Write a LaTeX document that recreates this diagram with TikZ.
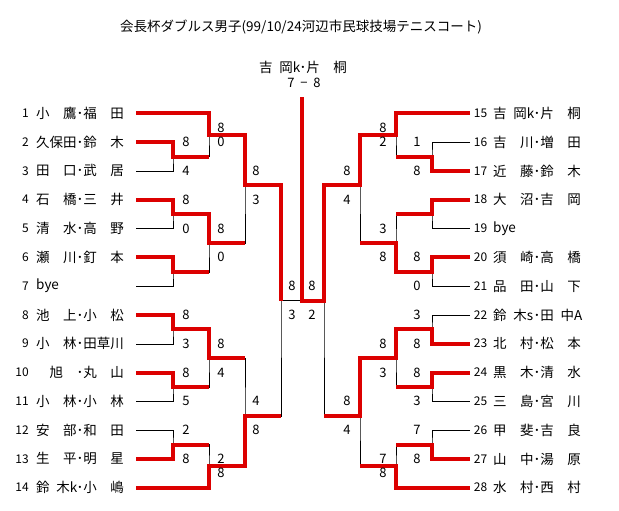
\documentclass[tikz,border=0pt]{standalone}
\usepackage{fontspec}
\setmainfont{Noto Sans CJK JP}
\usetikzlibrary{calc}
\definecolor{winred}{RGB}{220,0,0}
\tikzset{
  win/.style={draw=winred,line width=4pt},
  entry/.style={anchor=west,inner sep=0pt,font=\fontsize{13.5}{15}\selectfont},
  num/.style={anchor=east,inner sep=0pt,font=\fontsize{12}{14}\selectfont},
  sc/.style={inner sep=0pt,font=\fontsize{13}{15}\selectfont},
}
\newcommand\hw[1]{\makebox[.5em][l]{#1}}
\newcommand\pair[2]{\makebox[3em][l]{#1}\makebox[.5em]{･}\makebox[3em][l]{#2}}

\begin{document}
\begin{tikzpicture}[x=1pt,y=-14.4pt]
        \useasboundingbox (0,-7.868) rectangle (619,27.618);

        % title and result
        \node[entry,anchor=center] (title) at (301,-6) {会長杯ダブルス男子(99/10/24河辺市民球技場テニスコート)};
        \node[entry,anchor=center] (champ) at (303,-3.2) {\pair{吉\hspace{.5em}岡\hw{k}}{片　桐}};
        \node[sc] (final) at (304,-2.1) {7\hspace{.45em}−\hspace{.45em}8};

        % entry rows
        \foreach \i in {1,...,14}{
          \coordinate (L\i) at (136,{2*(\i-1)});
          \node[num] (nl\i) at (29,{2*(\i-1)}) {\i};
        }
        \foreach \i in {15,...,28}{
          \coordinate (R\i) at (470,{2*(\i-15)});
          \node[num] (nr\i) at (487.5,{2*(\i-15)}) {\i};
        }

        \node[entry] (p1) at (36,0) {\pair{小　鷹}{福　田}};
        \node[entry] (p2) at (36,2) {\pair{久保田}{鈴　木}};
        \node[entry] (p3) at (36,4) {\pair{田　口}{武　居}};
        \node[entry] (p4) at (36,6) {\pair{石　橋}{三　井}};
        \node[entry] (p5) at (36,8) {\pair{清　水}{高　野}};
        \node[entry] (p6) at (36,10) {\pair{瀬　川}{釘　本}};
        \node[entry] (p7) at (36,12) {bye};
        \node[entry] (p8) at (36,14) {\pair{池　上}{小　松}};
        \node[entry] (p9) at (36,16) {\pair{小　林}{田草川}};
        \node[entry] (p10) at (36,18) {\pair{　旭　}{丸　山}};
        \node[entry] (p11) at (36,20) {\pair{小　林}{小　林}};
        \node[entry] (p12) at (36,22) {\pair{安　部}{和　田}};
        \node[entry] (p13) at (36,24) {\pair{生　平}{明　星}};
        \node[entry] (p14) at (36,26) {\pair{鈴\hspace{.5em}木\hw{k}}{小　嶋}};

        \node[entry] (p15) at (493,0) {\pair{吉\hspace{.5em}岡\hw{k}}{片　桐}};
        \node[entry] (p16) at (493,2) {\pair{吉　川}{増　田}};
        \node[entry] (p17) at (493,4) {\pair{近　藤}{鈴　木}};
        \node[entry] (p18) at (493,6) {\pair{大　沼}{吉　岡}};
        \node[entry] (p19) at (493,8) {bye};
        \node[entry] (p20) at (493,10) {\pair{須　崎}{高　橋}};
        \node[entry] (p21) at (493,12) {\pair{品　田}{山　下}};
        \node[entry] (p22) at (493,14) {\pair{鈴\hspace{.5em}木\hw{s}}{田\hspace{.5em}中\hw{A}}};
        \node[entry] (p23) at (493,16) {\pair{北　村}{松　本}};
        \node[entry] (p24) at (493,18) {\pair{黒　木}{清　水}};
        \node[entry] (p25) at (493,20) {\pair{三　島}{宮　川}};
        \node[entry] (p26) at (493,22) {\pair{甲　斐}{吉　良}};
        \node[entry] (p27) at (493,24) {\pair{山　中}{湯　原}};
        \node[entry] (p28) at (493,26) {\pair{水　村}{西　村}};

        % match points, left half
        \coordinate (a23) at (173,3);
        \coordinate (a45) at (173,7);
        \coordinate (a67) at (173,11);
        \coordinate (a89) at (173,15);
        \coordinate (a1011) at (173,19);
        \coordinate (a1213) at (173,23);
        \coordinate (b1) at (209,1.5);
        \coordinate (b4) at (209,9);
        \coordinate (b8) at (209,17);
        \coordinate (b14) at (209,24.5);
        \coordinate (c1) at (245,5);
        \coordinate (c14) at (245,21);
        \coordinate (d1) at (281,13);
        \coordinate (fin) at (302,13);
        \coordinate (top) at (302,-1.13);

        % match points, right half
        \coordinate (A1617) at (432,3);
        \coordinate (A1819) at (432,7);
        \coordinate (A2021) at (432,11);
        \coordinate (A2223) at (432,15);
        \coordinate (A2425) at (432,19);
        \coordinate (A2627) at (432,23);
        \coordinate (B15) at (396,1.5);
        \coordinate (B20) at (396,9);
        \coordinate (B23) at (396,17);
        \coordinate (B28) at (396,24.5);
        \coordinate (C15) at (360,5);
        \coordinate (C23) at (360,21);
        \coordinate (D15) at (324,13);

        % bracket lines
        \draw (L2) -| (a23) |- (L3);
        \draw (L4) -| (a45) |- (L5);
        \draw (L6) -| (a67) |- (L7);
        \draw (L8) -| (a89) |- (L9);
        \draw (L10) -| (a1011) |- (L11);
        \draw (L12) -| (a1213) |- (L13);
        \draw (L1) -| (b1) |- (a23);
        \draw (a45) -| (b4) |- (a67);
        \draw (a89) -| (b8) |- (a1011);
        \draw (a1213) -| (b14) |- (L14);
        \draw (b1) -| (c1) |- (b4);
        \draw (b8) -| (c14) |- (b14);
        \draw (c1) -| (d1) |- (c14);
        \draw (d1) -- (fin);

        \draw (R16) -| (A1617) |- (R17);
        \draw (R18) -| (A1819) |- (R19);
        \draw (R20) -| (A2021) |- (R21);
        \draw (R22) -| (A2223) |- (R23);
        \draw (R24) -| (A2425) |- (R25);
        \draw (R26) -| (A2627) |- (R27);
        \draw (R15) -| (B15) |- (A1617);
        \draw (A1819) -| (B20) |- (A2021);
        \draw (A2223) -| (B23) |- (A2425);
        \draw (A2627) -| (B28) |- (R28);
        \draw (B15) -| (C15) |- (B20);
        \draw (B23) -| (C23) |- (B28);
        \draw (C15) -| (D15) |- (C23);

        % winners
        \draw[win] (L1) -| (b1) -| (c1) -| (d1);
        \draw[win] (L2) -| (a23) -- (a23 -| b1);
        \draw[win] (L4) -| (a45) -| (b4) -- (b4 -| c1);
        \draw[win] (L6) -| (a67) -- (a67 -| b4);
        \draw[win] (L8) -| (a89) -| (b8) -- (b8 -| c14);
        \draw[win] (L10) -| (a1011) -- (a1011 -| b8);
        \draw[win] (L13) -| (a1213) -- (a1213 -| b14);
        \draw[win] (L14) -| (b14) -| (c14) -- (c14 -| d1);

        \draw[win] (R15) -| (B15) -| (C15) -| (D15) -| (top);
        \draw[win] (R17) -| (A1617) -- (A1617 -| B15);
        \draw[win] (R18) -| (A1819) -- (A1819 -| B20);
        \draw[win] (R20) -| (A2021) -| (B20) -- (B20 -| C15);
        \draw[win] (R23) -| (A2223) -| (B23) -| (C23) -- (C23 -| D15);
        \draw[win] (R24) -| (A2425) -- (A2425 -| B23);
        \draw[win] (R27) -| (A2627) -- (A2627 -| B28);
        \draw[win] (R28) -| (B28) -- (B28 -| C23);

        % scores
        \foreach \x/\y/\s [count=\n] in {
            186/2/8, 186/4/4, 186/6/8, 186/8/0, 186/14/8, 186/16/3,
            186/18/8, 186/20/5, 186/22/2, 186/24/8,
            221/1/8, 221/2/0, 221/8/8, 221/10/0, 221/16/8, 221/18/4,
            221/24/2, 221/25/8,
            256/4/8, 256/6/3, 256/20/4, 256/22/8,
            292/12/8, 292/14/3, 312/12/8, 312/14/2,
            347/4/8, 347/6/4, 347/20/8, 347/22/4,
            383/1/8, 383/2/2, 383/8/3, 383/10/8, 383/16/8, 383/18/3,
            383/24/7, 383/25/8,
            417/2/1, 417/4/8, 417/10/8, 417/12/0, 417/14/3, 417/16/8,
            417/18/8, 417/20/3, 417/22/7, 417/24/8}
          \node[sc] (sc\n) at (\x,\y) {\s};
\end{tikzpicture}
\end{document}
